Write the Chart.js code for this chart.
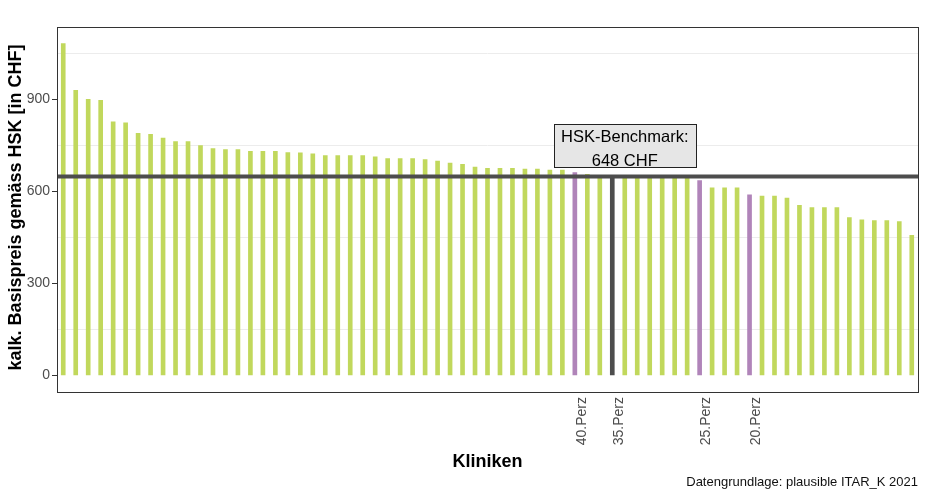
<!DOCTYPE html>
<html><head><meta charset="utf-8">
<script src="https://cdn.jsdelivr.net/npm/chart.js@4"></script>
<style>html,body{margin:0;padding:0;background:#fff;} canvas{display:block;}</style>
</head><body>
<canvas id="c" width="925" height="494"></canvas>
<script>
// ---- data ----
const basispreis = [1081, 929, 899, 896, 826, 823, 789, 785, 773, 762,
  762, 749, 739, 736, 736, 730, 730, 730, 726, 725,
  722, 716, 716, 716, 716, 712, 706, 706, 706, 703,
  698, 692, 688, 679, 675, 675, 675, 672, 672, 669,
  669, 661, 655, 651, 648, 647, 646, 645, 644, 643,
  642, 635, 611, 611, 611, 588, 584, 584, 578, 554,
  547, 547, 547, 514, 507, 504, 504, 501, 456];
const percentileIndex = [41, 44, 51, 55];
const percentileLabels = ['40.Perz', '35.Perz', '25.Perz', '20.Perz'];
const benchmarkPercentile = '35.Perz';
const benchmarkValue = 648;
const benchmarkText = ['HSK-Benchmark:', '648 CHF'];
const yMajorTicks = [0, 300, 600, 900];
const yMinorTicks = [150, 450, 750, 1050];
const yTitle = 'kalk. Basispreis gemäss HSK [in CHF]';
const xTitle = 'Kliniken';
const caption = 'Datengrundlage: plausible ITAR_K 2021';

const kliniken = basispreis.map((_, i) => 'Klinik ' + (i + 1));

// ---- styles ----
const GREEN = '#c1d85c';
const PURPLE = '#b084b9';
const DARK = '#4d4d4d';
const FONT = '"Liberation Sans", Arial, Helvetica, sans-serif';
Chart.defaults.font.family = FONT;

const benchIdx = percentileIndex[percentileLabels.indexOf(benchmarkPercentile)];
const barColors = basispreis.map((_, i) => {
  const k = percentileIndex.indexOf(i);
  if (k < 0) return GREEN;
  return percentileLabels[k] === benchmarkPercentile ? DARK : PURPLE;
});
const allYTicks = [...yMajorTicks, ...yMinorTicks].sort((a, b) => a - b);

const overlay = {
  id: 'overlay',
  afterDatasetsDraw(chart) {
    const {ctx, chartArea: a, scales: {x, y}} = chart;
    ctx.save();
    // benchmark line
    const yb = y.getPixelForValue(benchmarkValue);
    ctx.strokeStyle = DARK; ctx.lineWidth = 4;
    ctx.beginPath(); ctx.moveTo(a.left, yb); ctx.lineTo(a.right, yb); ctx.stroke();
    // label box
    ctx.font = '16.5px ' + FONT;
    const w = Math.max(...benchmarkText.map(t => ctx.measureText(t).width)) + 15;
    const h = 43;
    const cx = x.getPixelForValue(benchIdx + 1);
    const cy = y.getPixelForValue(benchmarkValue + 100);
    const bx = Math.round(cx - w / 2) + 0.5, by = Math.round(cy - h / 2) + 0.5;
    ctx.fillStyle = '#e6e6e6';
    ctx.fillRect(bx, by, Math.round(w), h);
    ctx.strokeStyle = '#222'; ctx.lineWidth = 1;
    ctx.strokeRect(bx, by, Math.round(w), h);
    ctx.fillStyle = '#000'; ctx.textAlign = 'center'; ctx.textBaseline = 'alphabetic';
    ctx.fillText(benchmarkText[0], cx, by + 17);
    ctx.fillText(benchmarkText[1], cx, by + 41);
    // panel border
    ctx.strokeStyle = '#333'; ctx.lineWidth = 1;
    ctx.strokeRect(a.left + 0.5, a.top + 0.5, a.right - a.left, a.bottom - a.top);
    ctx.restore();
  },
  afterDraw(chart) {
    const {ctx, chartArea: a} = chart;
    ctx.save();
    ctx.fillStyle = '#000';
    ctx.font = 'bold 18px ' + FONT;
    ctx.textAlign = 'center'; ctx.textBaseline = 'alphabetic';
    ctx.fillText(xTitle, (a.left + a.right) / 2, 467);
    ctx.save();
    ctx.translate(21, (a.top + a.bottom) / 2 - 2);
    ctx.rotate(-Math.PI / 2);
    ctx.fillText(yTitle, 0, 0);
    ctx.restore();
    ctx.font = '13px ' + FONT;
    ctx.textAlign = 'right';
    ctx.fillStyle = '#111';
    ctx.fillText(caption, a.right, 486);
    ctx.restore();
  }
};

new Chart(document.getElementById('c'), {
  type: 'bar',
  data: {
    labels: kliniken,
    datasets: [{
      data: basispreis,
      backgroundColor: barColors,
      borderWidth: 0,
      barThickness: 4
    }]
  },
  options: {
    responsive: false,
    animation: false,
    events: [],
    layout: {padding: {top: 27, right: 7, left: 0, bottom: 0}},
    plugins: {legend: {display: false}, tooltip: {enabled: false}, title: {display: false}},
    scales: {
      x: {
        offset: true,
        grid: {display: false, drawTicks: false},
        border: {display: false},
        ticks: {
          autoSkip: false, maxRotation: 90, minRotation: 90,
          padding: 5, labelOffset: 7,
          color: DARK, font: {size: 14},
          callback: (v, i) => {
            const k = percentileIndex.indexOf(i);
            return k < 0 ? '' : percentileLabels[k];
          }
        },
        afterFit: s => { s.height = 102; s.paddingLeft = 0; s.paddingRight = 0; }
      },
      y: {
        min: -54, max: 1135,
        afterBuildTicks: s => { s.ticks = allYTicks.map(v => ({value: v})); },
        grid: {
          color: c => (c.tick && yMinorTicks.includes(c.tick.value)) ? '#ececec' : 'rgba(0,0,0,0)',
          tickColor: c => (c.tick && yMajorTicks.includes(c.tick.value)) ? '#333' : 'rgba(0,0,0,0)',
          tickLength: 5, lineWidth: 1
        },
        border: {display: false},
        ticks: {
          padding: 2, color: DARK, font: {size: 14},
          callback: v => yMajorTicks.includes(v) ? String(v) : ''
        },
        afterFit: s => { s.width = 57; s.paddingTop = 0; s.paddingBottom = 0; }
      }
    }
  },
  plugins: [overlay]
});
</script>
</body></html>
